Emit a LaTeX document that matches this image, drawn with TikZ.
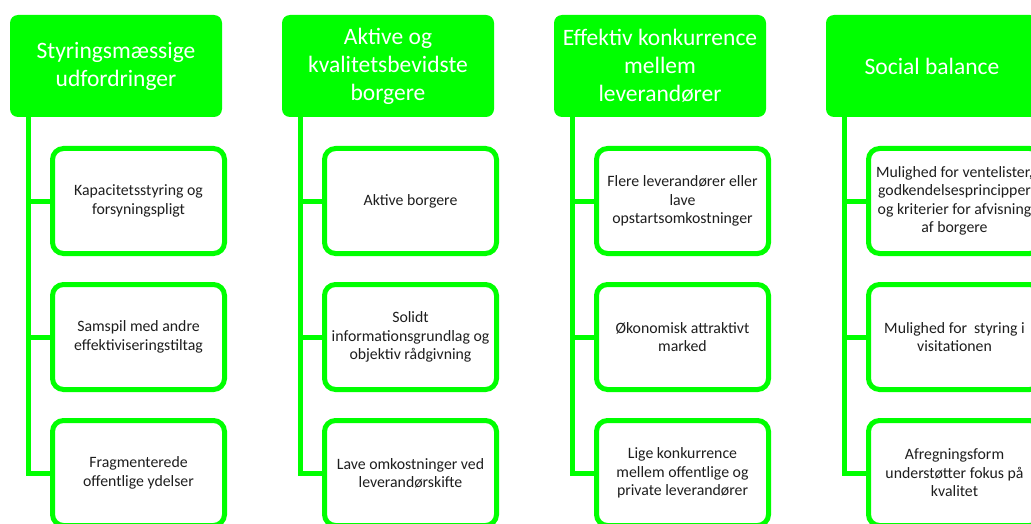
\documentclass[tikz,border=0pt]{standalone}
\usepackage{fontspec}
\setmainfont{Carlito}
\definecolor{lime}{RGB}{0,255,0}
\definecolor{ink}{RGB}{30,30,30}
\begin{document}
\begin{tikzpicture}[x=1pt, y=-1pt,
    head/.style={rectangle, rounded corners=8pt, fill=lime, text=white, minimum width=212pt, minimum height=102pt, inner sep=2pt, align=center, font=\fontsize{23.5}{28}\selectfont},
    item/.style={rectangle, rounded corners=11pt, draw=lime, line width=5pt, fill=white, text=ink, minimum width=172pt, minimum height=105pt, inner sep=1pt, align=center, font=\fontsize{15.8}{18.4}\selectfont},
    link/.style={draw=lime, line width=5pt}]
    \useasboundingbox (0,0) rectangle (1031,524);

    % Styringsmaessige udfordringer
    \node[head] (h1) at (116,66) {Styringsmæssige\\udfordringer};
    \node[item] (c11) at (138.5,201) {Kapacitetsstyring og\\forsyningspligt};
    \node[item] (c12) at (138.5,337) {Samspil med andre\\effektiviseringstiltag};
    \node[item] (c13) at (138.5,473) {Fragmenterede\\offentlige ydelser};

    % Aktive og kvalitetsbevidste borgere
    \node[head] (h2) at (388,66) {Aktive og\\kvalitetsbevidste\\borgere};
    \node[item] (c21) at (410.5,201) {Aktive borgere};
    \node[item] (c22) at (410.5,337) {Solidt\\informationsgrundlag og\\objektiv rådgivning};
    \node[item] (c23) at (410.5,473) {Lave omkostninger ved\\leverandørskifte};

    % Effektiv konkurrence mellem leverandoerer
    \node[head] (h3) at (660,66) {Effektiv konkurrence\\mellem\\leverandører};
    \node[item] (c31) at (682.5,201) {Flere leverandører eller\\lave\\opstartsomkostninger};
    \node[item] (c32) at (682.5,337) {Økonomisk attraktivt\\marked};
    \node[item] (c33) at (682.5,473) {Lige konkurrence\\mellem offentlige og\\private leverandører};

    % Social balance
    \node[head] (h4) at (932,66) {Social balance};
    \node[item] (c41) at (954.5,201) {Mulighed for ventelister,\\godkendelsesprincipper\\og kriterier for afvisning\\af borgere};
    \node[item] (c42) at (954.5,337) {Mulighed for \ styring i\\visitationen};
    \node[item] (c43) at (954.5,473) {Afregningsform\\understøtter fokus på\\kvalitet};

    % connectors
    \foreach \col in {1,2,3,4} {
        \foreach \row in {1,2,3} {
            \draw[link] ([xshift=19pt]h\col.south west) |- (c\col\row.west);
        }
    }
\end{tikzpicture}
\end{document}
